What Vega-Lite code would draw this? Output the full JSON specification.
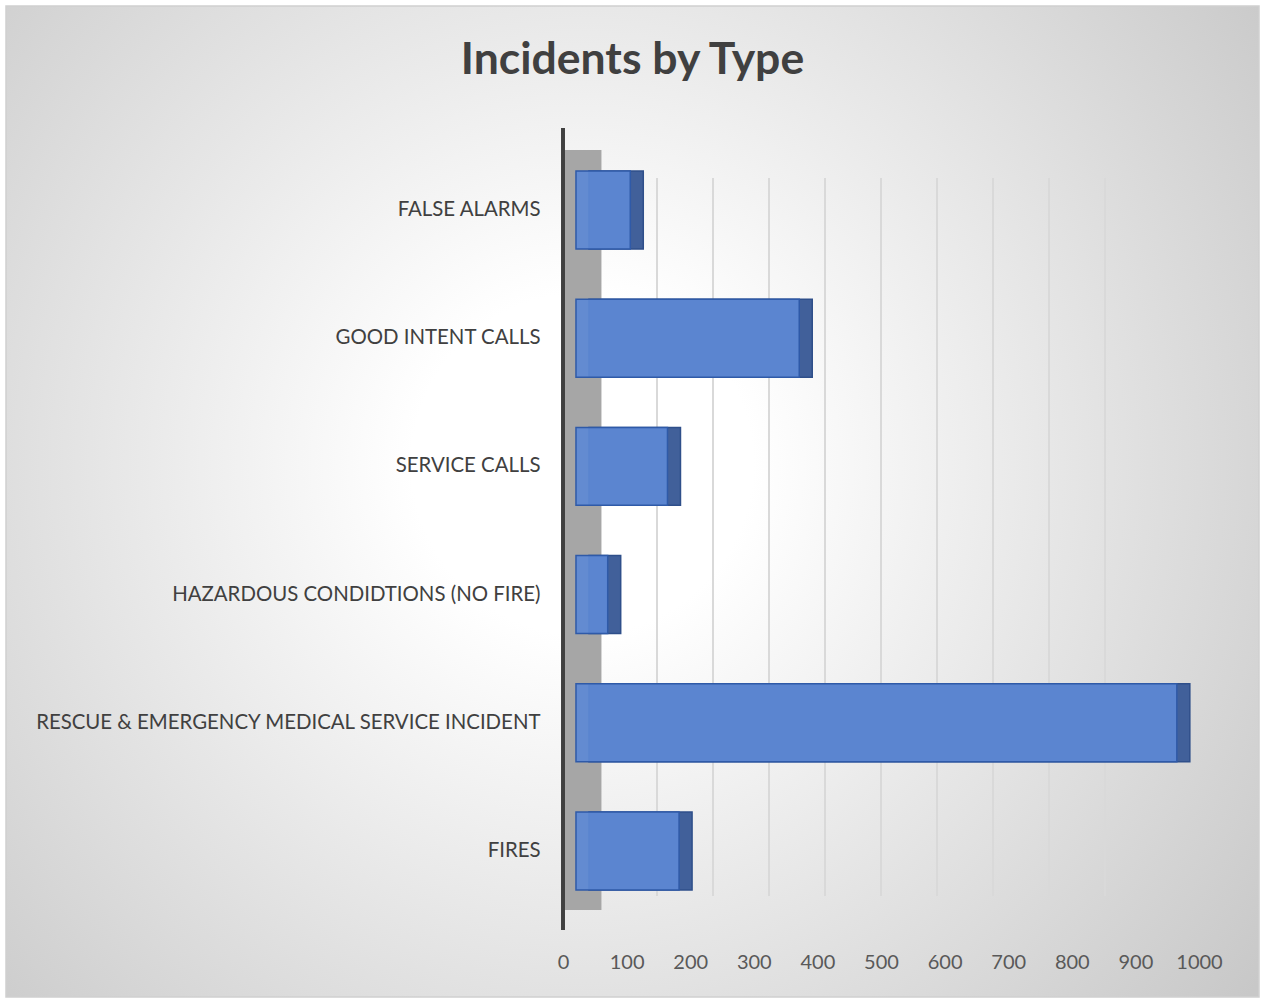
{
  "$schema": "https://vega.github.io/schema/vega-lite/v6.json",
  "description": "Incidents by Type, horizontal bars drawn to look like the Excel 3D bar chart.",
  "width": 1265,
  "height": 999,
  "autosize": {"type": "fit", "contains": "padding"},
  "padding": {"left": 6, "top": 6, "right": 6, "bottom": 2},
  "background": "white",
  "title": {
    "text": "Incidents by Type",
    "font": "Lato",
    "fontSize": 44.5,
    "fontWeight": "bold",
    "color": "#404040",
    "anchor": "middle",
    "baseline": "alphabetic",
    "offset": -112
  },
  "config": {
    "view": {
      "stroke": "#d0d0d0",
      "strokeWidth": 1.5,
      "fill": {
        "gradient": "radial",
        "x1": 0.46, "y1": 0.47, "r1": 0,
        "x2": 0.46, "y2": 0.47, "r2": 0.68,
        "stops": [
          {"offset": 0, "color": "#ffffff"},
          {"offset": 0.2, "color": "#ffffff"},
          {"offset": 1, "color": "#c8c8c8"}
        ]
      }
    }
  },
  "datasets": {
    "incidents": [
      {"type": "FALSE ALARMS", "count": 89},
      {"type": "GOOD INTENT CALLS", "count": 366},
      {"type": "SERVICE CALLS", "count": 150},
      {"type": "HAZARDOUS CONDIDTIONS (NO FIRE)", "count": 52},
      {"type": "RESCUE & EMERGENCY MEDICAL SERVICE INCIDENT", "count": 985},
      {"type": "FIRES", "count": 169}
    ],
    "grid": [
      {"tick": 100}, {"tick": 200}, {"tick": 300}, {"tick": 400}, {"tick": 500},
      {"tick": 600}, {"tick": 700}, {"tick": 800}, {"tick": 900}
    ]
  },
  "data": {"name": "incidents"},
  "resolve": {"scale": {"x": "independent"}},
  "layer": [
    {
      "layer": [
        {
          "mark": {"type": "rule", "color": "#a6a6a6", "strokeWidth": 38, "yOffset": -60, "y2Offset": 59},
          "encoding": {
            "x": {"datum": 30, "type": "quantitative"},
            "y": {"datum": "FALSE ALARMS", "bandPosition": 0.5},
            "y2": {"datum": "FIRES"}
          }
        },
        {
          "mark": {"type": "rule", "color": "#404040", "strokeWidth": 3, "yOffset": -82, "y2Offset": 79},
          "encoding": {
            "x": {
              "datum": 0,
              "type": "quantitative",
              "scale": {"domain": [-875.8, 1094.3], "nice": false, "zero": false},
              "axis": {
                "orient": "bottom",
                "offset": -47,
                "title": null,
                "values": [0, 100, 200, 300, 400, 500, 600, 700, 800, 900, 1000],
                "format": "d",
                "domain": false,
                "ticks": false,
                "grid": false,
                "labelFont": "Lato",
                "labelFontSize": 20,
                "labelColor": "#595959",
                "labelPadding": 2,
                "labelFlush": false,
                "labelOverlap": false
              }
            },
            "y": {"datum": "FALSE ALARMS", "bandPosition": 0.5},
            "y2": {"datum": "FIRES"}
          }
        }
      ]
    },
    {
      "data": {"name": "grid"},
      "mark": {"type": "rule", "color": "#d9d9d9", "strokeWidth": 2, "yOffset": -32, "y2Offset": 45},
      "encoding": {
        "x": {
          "field": "tick",
          "type": "quantitative",
          "scale": {"domain": [-1062.5, 1175], "nice": false, "zero": false},
          "axis": null
        },
        "y": {"datum": "FALSE ALARMS", "bandPosition": 0.5},
        "y2": {"datum": "FIRES"}
      }
    },
    {
      "layer": [
        {
          "mark": {"type": "bar", "color": "#41609a", "stroke": "#2f4f8a", "strokeWidth": 1.5, "xOffset": 13, "x2Offset": 13, "height": {"band": 0.833}},
          "encoding": {
            "x": {"field": "count", "type": "quantitative", "axis": null},
            "y": {"field": "type", "type": "nominal", "sort": null}
          }
        },
        {
          "mark": {"type": "bar", "color": "#5d89d5", "fillOpacity": 0.92, "stroke": "#2f5aa8", "strokeWidth": 1.5, "height": {"band": 0.833}},
          "encoding": {
            "x": {
              "field": "count",
              "type": "quantitative",
              "scale": {"domain": [-934.4, 1119.7], "nice": false, "zero": false},
              "axis": null
            },
            "y": {
              "field": "type",
              "type": "nominal",
              "sort": null,
              "scale": {
                "type": "band",
                "domain": [
                  "FALSE ALARMS",
                  "GOOD INTENT CALLS",
                  "SERVICE CALLS",
                  "HAZARDOUS CONDIDTIONS (NO FIRE)",
                  "RESCUE & EMERGENCY MEDICAL SERVICE INCIDENT",
                  "FIRES"
                ],
                "paddingInner": 0.27,
                "paddingOuter": 1,
                "align": 0.613
              },
              "axis": {
                "orient": "left",
                "offset": -534,
                "title": null,
                "domain": false,
                "ticks": false,
                "labelFont": "Lato",
                "labelFontSize": 20.4,
                "labelColor": "#404040",
                "labelPadding": 0,
                "labelLimit": 0
              }
            }
          }
        }
      ]
    }
  ]
}
